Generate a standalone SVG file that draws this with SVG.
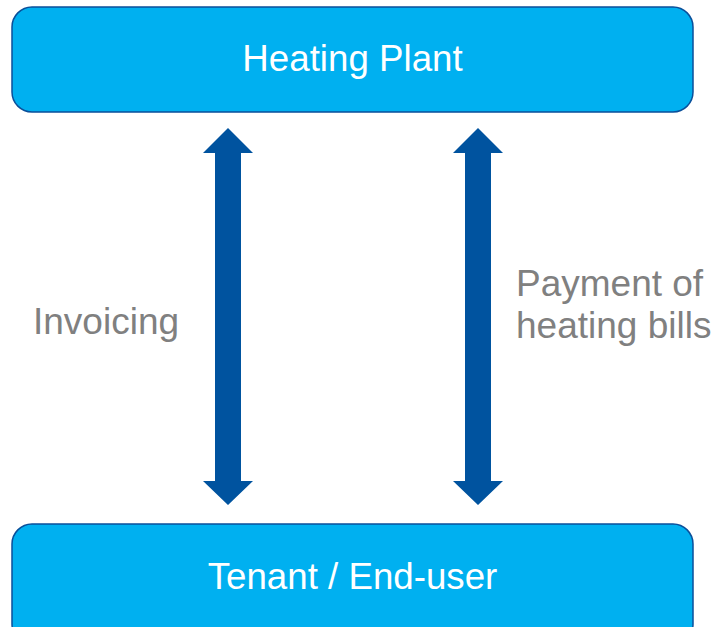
<svg xmlns="http://www.w3.org/2000/svg" width="715" height="627" viewBox="0 0 715 627">
  <style>
    .box { fill: #00B0F0; stroke: #0A4F9A; stroke-width: 1.5; }
    .box-label { font-family: "Liberation Sans", Arial, sans-serif; font-size: 36.7px; fill: #FFFFFF; text-anchor: middle; }
    .flow { fill: #00539F; }
    .flow-label { font-family: "Liberation Sans", Arial, sans-serif; font-size: 37px; fill: #808080; }
  </style>
  <rect width="715" height="627" fill="#FFFFFF"/>

  <g id="heating-plant">
    <rect class="box" x="12" y="7" width="681" height="105" rx="20" ry="20"/>
    <text class="box-label" x="352.5" y="71">Heating Plant</text>
  </g>

  <g id="tenant">
    <rect class="box" x="12" y="524" width="681" height="120" rx="20" ry="20"/>
    <text class="box-label" x="352.5" y="589">Tenant / End-user</text>
  </g>

  <g id="connectors">
    <!-- double-headed block arrows between the two parties -->
    <polygon class="flow" points="228,128 253,153 241,153 241,481 253,481 228,505 203,481 215,481 215,153 203,153"/>
    <polygon class="flow" points="478,128 503,153 491,153 491,481 503,481 478,505 453,481 465,481 465,153 453,153"/>
    <text class="flow-label" x="33" y="334">Invoicing</text>
    <text class="flow-label" x="516" y="296">Payment of</text>
    <text class="flow-label" x="516" y="338">heating bills</text>
  </g>
</svg>
